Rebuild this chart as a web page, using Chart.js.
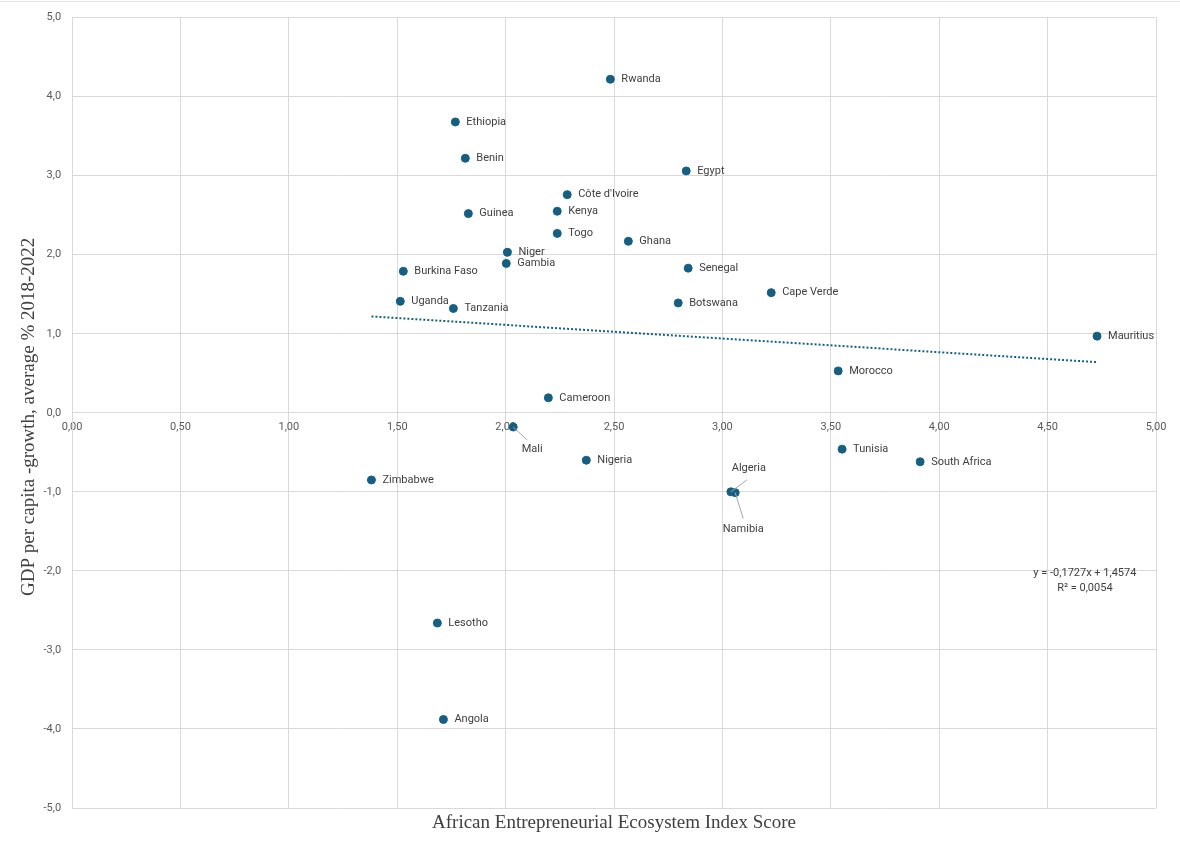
<!DOCTYPE html>
<html>
<head>
<meta charset="utf-8">
<script src="https://cdn.jsdelivr.net/npm/chart.js@4.4.1/dist/chart.umd.min.js"></script>
<style>
  body { margin: 0; background: #fff; }
  #wrap { width: 1180px; height: 846px; position: relative; }
  #topline { position: absolute; left: 0; top: 1px; width: 1180px; height: 1px; background: #e3e3e3; }
</style>
</head>
<body>
<div id="wrap">
  <div id="topline"></div>
  <canvas id="grafico" width="1180" height="846"></canvas>
</div>
<script>
// dados
var paises = ['Rwanda', 'Ethiopia', 'Benin', 'Egypt', "Côte d'Ivoire", 'Guinea', 'Kenya', 'Togo', 'Ghana',
  'Niger', 'Gambia', 'Senegal', 'Burkina Faso', 'Cape Verde', 'Uganda', 'Botswana', 'Tanzania', 'Mauritius',
  'Morocco', 'Cameroon', 'Mali', 'Nigeria', 'Tunisia', 'South Africa', 'Zimbabwe', 'Algeria', 'Namibia',
  'Lesotho', 'Angola'];
var indice = [2.483, 1.768, 1.814, 2.833, 2.284, 1.828, 2.238, 2.238, 2.566,
  2.008, 2.003, 2.842, 1.528, 3.225, 1.514, 2.796, 1.759, 4.728,
  3.534, 2.197, 2.035, 2.372, 3.552, 3.912, 1.381, 3.039, 3.059,
  1.685, 1.713];
var crescimento = [4.22, 3.68, 3.22, 3.06, 2.76, 2.52, 2.55, 2.27, 2.17,
  2.03, 1.89, 1.83, 1.79, 1.52, 1.41, 1.39, 1.32, 0.97,
  0.53, 0.19, -0.18, -0.60, -0.46, -0.62, -0.85, -1.00, -1.01,
  -2.66, -3.88];

// linha de tendência (extremos lidos)
var tendenciaX = [1.381, 4.728];
var tendenciaY = [1.219, 0.641];
var equacao = ['y = -0,1727x + 1,4574', 'R² = 0,0054'];

var xTicks = [0, 0.5, 1, 1.5, 2, 2.5, 3, 3.5, 4, 4.5, 5];
var yTicks = [-5, -4, -3, -2, -1, 0, 1, 2, 3, 4, 5];

var tituloX = 'African Entrepreneurial Ecosystem Index Score';
var tituloY = 'GDP per capita -growth, average % 2018-2022';

var corPonto = '#156082';
var fonte = "Roboto, 'Liberation Sans', sans-serif";
var fonteSerif = "'Liberation Serif', serif";

// rótulos com posição especial (linha de chamada)
var rotulosEspeciais = {
  'Mali': { dx: 19, dy: 22, lx: 14, ly: 13, align: 'center' },
  'Algeria': { dx: 18, dy: -24, lx: 16, ly: -12, align: 'center' },
  'Namibia': { dx: 8, dy: 37, lx: 8, ly: 26, align: 'center' }
};

function PegarPontos() {
  var pontos = [];
  for (var i = 0; i < paises.length; i++) {
    pontos.push({ x: indice[i], y: crescimento[i] });
  }
  return pontos;
}

function PegarTendencia() {
  return [{ x: tendenciaX[0], y: tendenciaY[0] }, { x: tendenciaX[1], y: tendenciaY[1] }];
}

var rotulosPlugin = {
  id: 'rotulos',
  afterDatasetsDraw: function (chart) {
    var ctx = chart.ctx;
    var meta = chart.getDatasetMeta(1);
    var area = chart.chartArea;
    ctx.save();
    ctx.font = '11px ' + fonte;
    ctx.fillStyle = '#404040';
    ctx.textBaseline = 'middle';
    meta.data.forEach(function (pt, i) {
      var nome = paises[i];
      var esp = rotulosEspeciais[nome];
      if (esp) {
        ctx.strokeStyle = '#a6a6a6';
        ctx.lineWidth = 1;
        ctx.beginPath();
        ctx.moveTo(pt.x, pt.y);
        ctx.lineTo(pt.x + esp.lx, pt.y + esp.ly);
        ctx.stroke();
        ctx.textAlign = esp.align;
        ctx.fillText(nome, pt.x + esp.dx, pt.y + esp.dy);
      } else {
        ctx.textAlign = 'left';
        ctx.fillText(nome, pt.x + 11, pt.y);
      }
    });

    // equação da tendência
    var sx = chart.scales.x, sy = chart.scales.y;
    var ex = sx.getPixelForValue(4.672);
    var ey = sy.getPixelForValue(-2.03);
    ctx.textAlign = 'center';
    ctx.fillText(equacao[0], ex, ey);
    ctx.fillText(equacao[1], ex, ey + 15);

    // título do eixo x
    ctx.font = '19px ' + fonteSerif;
    ctx.fillText(tituloX, (area.left + area.right) / 2, area.bottom + 15);

    // título do eixo y
    ctx.translate(29, (area.top + area.bottom) / 2 + 4);
    ctx.rotate(-Math.PI / 2);
    ctx.fillText(tituloY, 0, 0);
    ctx.restore();
  }
};

var ctx = document.getElementById('grafico').getContext('2d');

var grafico = new Chart(ctx, {
  type: 'scatter',
  data: {
    datasets: [
      {
        label: 'Tendência',
        type: 'line',
        data: PegarTendencia(),
        borderColor: corPonto,
        borderWidth: 2,
        borderDash: [2, 2],
        pointRadius: 0,
        fill: false
      },
      {
        label: 'Países',
        data: PegarPontos(),
        backgroundColor: corPonto,
        borderColor: corPonto,
        pointRadius: 4,
        pointHoverRadius: 4
      }
    ]
  },
  options: {
    responsive: false,
    animation: false,
    devicePixelRatio: 1,
    layout: { padding: { left: 32.5, right: 24, top: 10, bottom: 38 } },
    plugins: {
      legend: { display: false },
      tooltip: { enabled: false },
      title: { display: false }
    },
    scales: {
      x: {
        type: 'linear',
        position: { y: 0 },
        min: 0,
        max: 5,
        afterBuildTicks: function (axis) {
          axis.ticks = xTicks.map(function (v) { return { value: v }; });
        },
        ticks: {
          color: '#595959',
          font: { family: fonte, size: 11 },
          padding: 8,
          maxRotation: 0,
          callback: function (v) { return v.toFixed(2).replace('.', ','); }
        },
        grid: { color: '#d9d9d9', drawTicks: false },
        border: { color: '#d9d9d9' }
      },
      y: {
        min: -5,
        max: 5,
        afterBuildTicks: function (axis) {
          axis.ticks = yTicks.map(function (v) { return { value: v }; });
        },
        ticks: {
          color: '#595959',
          font: { family: fonte, size: 11 },
          padding: 11,
          callback: function (v) { return v.toFixed(1).replace('.', ','); }
        },
        grid: { color: '#d9d9d9', drawTicks: false },
        border: { color: '#d9d9d9' }
      }
    }
  },
  plugins: [rotulosPlugin]
});
</script>
</body>
</html>
